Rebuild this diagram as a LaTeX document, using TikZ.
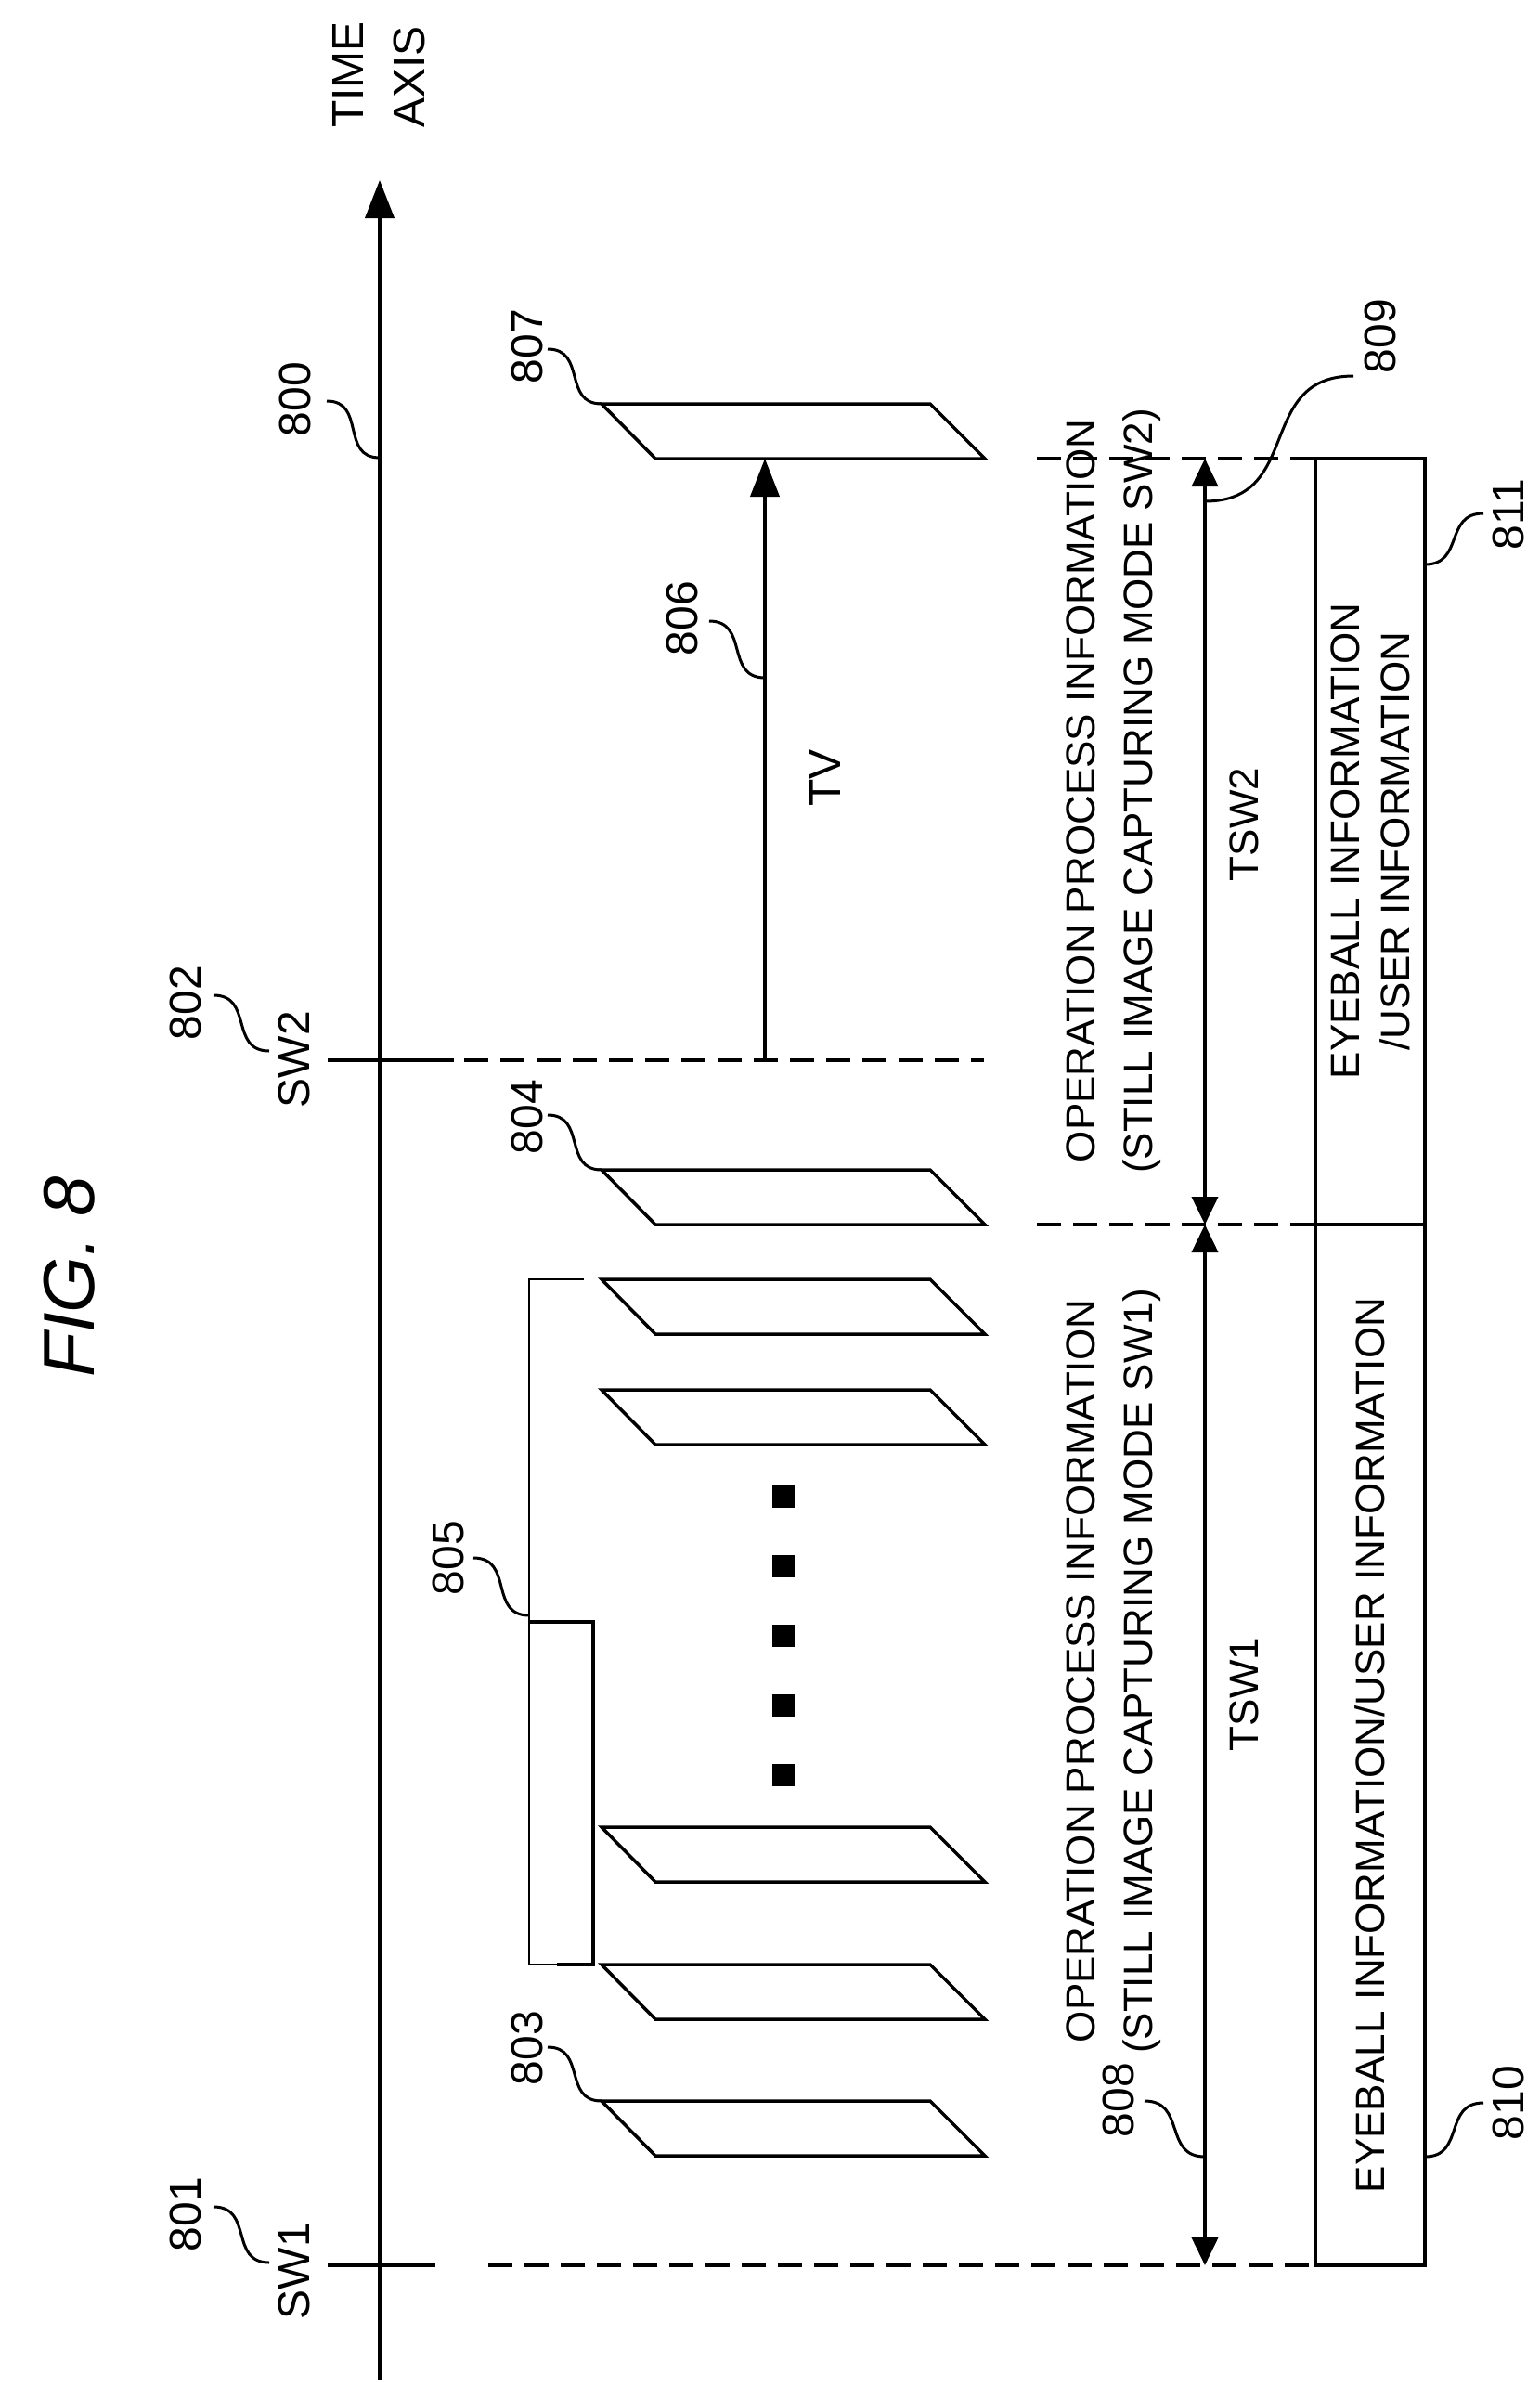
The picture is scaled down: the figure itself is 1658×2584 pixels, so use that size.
\documentclass[tikz,border=0pt]{standalone}
\usepackage{fontspec}
\setmainfont{Liberation Sans}
\usetikzlibrary{arrows.meta}
\begin{document}
\begin{tikzpicture}[x=1pt,y=-1pt,
  ln/.style={line width=4pt},
  thin/.style={line width=1.6pt},
  dsh/.style={line width=4pt,dash pattern=on 26pt off 13pt},
  lbl/.style={font=\fontsize{48}{50}\selectfont,rotate=90,inner sep=0pt},
  txt/.style={font=\fontsize{44}{62}\selectfont,rotate=90,inner sep=0pt,align=center},
  big/.style={-{Triangle[length=41pt,width=31pt]}},
  sm/.style={{Triangle[length=30pt,width=28pt]}-{Triangle[length=30pt,width=28pt]}},
  lead/.style={line width=3pt,out=0,in=180,looseness=1.3},
  leadr/.style={line width=3pt,out=180,in=0,looseness=1.3}]
\useasboundingbox (0,0) rectangle (1658,2584);
% title
\node[font=\fontsize{78}{80}\selectfont\itshape,rotate=90,inner sep=0pt] (fig) at (75,1375) {FIG. 8};
% time axis
\coordinate (axb) at (409,2563);
\coordinate (axt) at (409,194);
\draw[ln,big] (axb) -- (axt);
\node[lbl,anchor=west] (time) at (375,138) {TIME};
\node[lbl,anchor=west] (axis) at (441,138) {AXIS};
% 800
\node[lbl] (l800) at (318,430) {800};
\coordinate (c800) at (409,493);
\draw[lead] (352,432) to (c800);
% SW1 / SW2
\node[lbl] (sw1) at (317,2446) {SW1};
\node[lbl] (l801) at (200,2385) {801};
\draw[lead] (230,2377) to (290,2437);
\node[lbl] (sw2) at (317,1141) {SW2};
\node[lbl] (l802) at (200,1080) {802};
\draw[lead] (230,1072) to (290,1132);
\coordinate (s1a) at (353,2440); \coordinate (s1b) at (469,2440);
\coordinate (s1c) at (526,2440); \coordinate (s1d) at (1417,2440);
\draw[ln] (s1a) -- (s1b);
\draw[dsh] (s1c) -- (s1d);
\coordinate (s2a) at (353,1142); \coordinate (s2b) at (489,1142);
\coordinate (s2c) at (500,1142); \coordinate (s2d) at (1060,1142);
\draw[ln] (s2a) -- (s2b);
\draw[dsh] (s2c) -- (s2d);
% other dashed lines
\coordinate (d1a) at (1117,1319); \coordinate (d1b) at (1417,1319);
\coordinate (d2a) at (1117,494); \coordinate (d2b) at (1417,494);
\draw[dsh] (d1a) -- (d1b);
\draw[dsh] (d2a) -- (d2b);
% parallelograms
\foreach \t in {2263,2116,1968,1497,1378,1260,435}{
  \draw[line width=3.5pt,line join=miter] (648,\t) -- (1002,\t) -- (1061,\t+59) -- (706,\t+59) -- cycle;
}
\node[lbl] (l803) at (568,2206) {803};
\draw[lead] (590,2205) to (648,2263);
\node[lbl] (l804) at (568,1203) {804};
\draw[lead] (590,1201) to (648,1260);
\node[lbl] (l807) at (568,373) {807};
\draw[lead] (590,376) to (648,435);
% dots
\foreach \y in {1612,1687,1762,1837,1912}{
  \fill (832,\y-12) rectangle (856,\y+12);
}
% bracket 805
\draw[thin] (629,1378) -- (570,1378) -- (570,2116) -- (600,2116);
\draw[ln] (570,1747) -- (639,1747) -- (639,2116) -- (600,2116);
\node[lbl] (l805) at (483,1678) {805};
\draw[lead] (510,1678) to (570,1740);
% TV arrow
\coordinate (tva) at (824,1142);
\coordinate (tvb) at (824,494);
\draw[ln,big] (tva) -- (tvb);
\node[font=\fontsize{48}{50}\selectfont,rotate=90,inner sep=0pt] (tv) at (889,838) {TV};
\node[lbl] (l806) at (735,666) {806};
\draw[lead] (764,669) to (824,730);
% TSW arrows
\coordinate (ta) at (1298,2440);
\coordinate (tm) at (1298,1319);
\coordinate (tb) at (1298,494);
\draw[ln,sm] (ta) -- (tm);
\draw[ln,sm] (tm) -- (tb);
\node[font=\fontsize{44}{46}\selectfont,rotate=90,inner sep=0pt] (tsw1) at (1340,1825) {TSW1};
\node[font=\fontsize{44}{46}\selectfont,rotate=90,inner sep=0pt] (tsw2) at (1340,888) {TSW2};
\node[txt] (op1) at (1200,1800) {OPERATION PROCESS INFORMATION\\(STILL IMAGE CAPTURING MODE SW1)};
\node[txt] (op2) at (1200,852) {OPERATION PROCESS INFORMATION\\(STILL IMAGE CAPTURING MODE SW2)};
\node[lbl] (l808) at (1205,2262) {808};
\draw[lead] (1233,2263) to (1298,2323);
\node[lbl] (l809) at (1487,362) {809};
\draw[leadr] (1458,405) to (1298,540);
% boxes
\draw[ln] (1417,494) rectangle (1535,2440);
\draw[ln] (1417,1319) -- (1535,1319);
\node[txt,font=\fontsize{44}{54}\selectfont] (eye2) at (1476,906) {EYEBALL INFORMATION\\/USER INFORMATION};
\node[txt] (eye1) at (1476,1880) {EYEBALL INFORMATION/USER INFORMATION};
\node[lbl] (l811) at (1625,554) {811};
\draw[lead] (1535,608) to (1598,553);
\node[lbl] (l810) at (1625,2265) {810};
\draw[lead] (1535,2323) to (1598,2265);
\end{tikzpicture}
\end{document}
